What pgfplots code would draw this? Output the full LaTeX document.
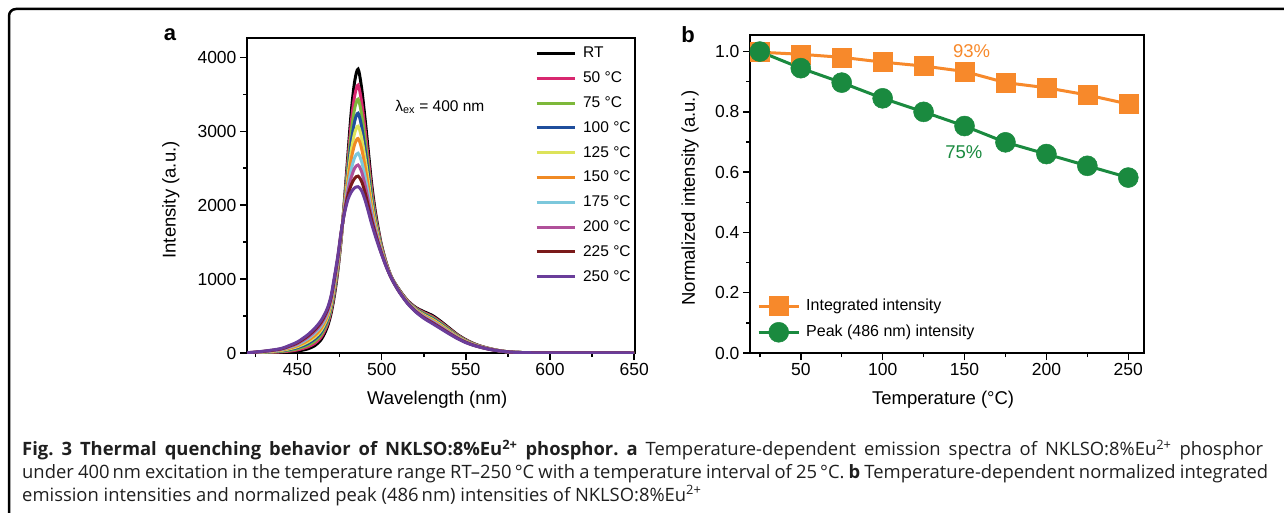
\documentclass[border=0pt]{standalone}
\usepackage{fontspec}
\setmainfont{Liberation Sans}
\newfontfamily\capfont{Open Sans}
\usepackage{pgfplots}
\pgfplotsset{compat=1.18}
\usepackage{pgfplotstable}
\frenchspacing

\pgfplotstableread{
wl rt t50 t75 t100 t125 t150 t175 t200 t225 t250
420 0 0 0 1 1 1 2 2 3 3
430 2 5 8 11 13 16 18 21 23 25
440 8 15 21 28 33 39 45 50 55 60
446 15 28 39 51 61 71 83 92 101 110
450 25 42 57 72 86 99 114 127 139 150
456 55 81 104 126 147 167 191 210 228 245
460 95 127 155 184 209 233 264 287 309 330
462 130 164 194 224 251 277 309 334 358 380
464 180 215 246 278 306 333 366 392 417 440
466 260 295 326 358 386 413 446 472 497 520
468 370 404 434 464 491 517 549 574 598 620
470 540 572 601 631 656 681 712 736 758 780
472 790 824 854 884 911 937 969 994 1018 1040
474 1120 1147 1171 1195 1217 1238 1263 1283 1302 1320
476 1550 1564 1575 1588 1598 1609 1622 1632 1641 1650
478 2100 2073 2049 2025 2003 1982 1957 1937 1918 1900
480 2700 2616 2543 2466 2400 2335 2256 2194 2136 2080
482 3280 3132 3001 2865 2748 2632 2491 2382 2279 2180
484 3680 3485 3312 3138 2979 2827 2647 2502 2365 2235
486 3840 3625 3435 3244 3069 2902 2703 2544 2393 2250
488 3600 3411 3243 3075 2921 2774 2599 2459 2326 2200
490 3200 3049 2914 2780 2657 2539 2399 2287 2181 2080
492 2750 2638 2538 2439 2347 2260 2157 2074 1995 1920
494 2300 2226 2160 2094 2033 1976 1907 1852 1800 1750
496 1950 1903 1861 1819 1780 1744 1700 1665 1632 1600
498 1680 1650 1624 1598 1573 1550 1523 1501 1480 1460
500 1450 1434 1419 1405 1392 1379 1364 1352 1341 1330
503 1200 1193 1187 1181 1176 1171 1164 1159 1155 1150
506 1020 1017 1015 1013 1010 1008 1006 1004 1002 1000
510 870 866 862 859 855 852 848 846 843 840
515 720 715 710 705 701 696 691 687 684 680
520 620 612 605 598 591 585 577 571 565 560
525 560 548 537 526 516 507 496 487 478 470
530 510 495 482 469 457 445 431 420 410 400
535 430 417 405 393 382 371 359 349 339 330
540 340 329 320 310 301 293 283 275 267 260
545 250 243 236 229 223 218 211 205 200 195
550 180 175 170 165 161 156 151 147 144 140
555 125 122 119 116 113 110 107 105 102 100
560 85 83 81 79 78 76 74 73 71 70
565 55 54 52 51 50 49 48 47 46 45
570 32 31 31 30 30 30 29 29 28 28
575 17 17 16 16 16 16 16 15 15 15
580 9 9 9 9 9 8 8 8 8 8
590 3 3 3 3 3 3 3 3 3 3
600 1 1 1 1 1 1 1 1 1 1
650 0 0 0 0 0 0 0 0 0 0
}\spectra

\pgfplotstableread{
T integ peak
25 0.998 1.000
50 0.991 0.945
75 0.981 0.897
100 0.965 0.845
125 0.952 0.800
150 0.934 0.753
175 0.897 0.699
200 0.880 0.660
225 0.856 0.621
250 0.826 0.582
}\quench

\definecolor{c50}{HTML}{D8276F}
\definecolor{c75}{HTML}{7DB83A}
\definecolor{c100}{HTML}{1F4E9C}
\definecolor{c125}{HTML}{DDE35A}
\definecolor{c150}{HTML}{F08A24}
\definecolor{c175}{HTML}{7CC8DC}
\definecolor{c200}{HTML}{B0509A}
\definecolor{c225}{HTML}{7A1A1A}
\definecolor{c250}{HTML}{6A3D9A}
\definecolor{qorange}{HTML}{F7892B}
\definecolor{qgreen}{HTML}{1A8A3F}

\pgfplotsset{
  common/.style={
    scale only axis, anchor=south west,
    axis line style={line width=1.8pt},
    tick style={line width=1.5pt, black},
    major tick length=7pt, minor tick length=4pt,
    tick align=outside, tick pos=left,
    /pgf/number format/assume math mode=true,
    /pgf/number format/1000 sep={},
    tick label style={font=\fontsize{17.5}{20}\selectfont},
    label style={font=\fontsize{18.5}{22}\selectfont},
  }
}

\begin{document}
\begin{tikzpicture}[x=1pt,y=1pt]
\useasboundingbox (0,0) rectangle (1284,512);
\draw[line width=2.5pt] (9,-10) -- (9,496) arc[start angle=180,end angle=90,radius=7] -- (1300,503);

% panel a
\begin{axis}[common,
  at={(247pt,159pt)}, width=388pt, height=315pt,
  xmin=420, xmax=650.5, ymin=0, ymax=4262,
  xtick={450,500,...,650}, minor xtick={425,475,...,625},
  ytick={0,1000,...,4000}, minor ytick={500,1500,2500,3500},
  xlabel={Wavelength (nm)}, ylabel={Intensity (a.u.)},
  xlabel style={at={(axis description cs:0.49,-0.149)}, anchor=center},
  ylabel style={at={(axis description cs:-0.196,0.486)}, anchor=center},
  every axis plot/.append style={line width=3pt, smooth, no markers},
  legend cell align=left,
  legend image code/.code={\draw[#1] (0pt,0pt) -- (38pt,0pt);},
  legend style={at={(0.742,0.9816)}, anchor=north west, draw=none, fill=none,
    inner sep=0pt, row sep=5.8pt,
    font=\fontsize{15.5}{18}\selectfont,
    nodes={inner sep=2pt, text height=12pt, text depth=3pt},
    /tikz/every odd column/.append style={column sep=5pt}},
]
\addplot[black] table[x=wl,y=rt] {\spectra};
\addplot[c50] table[x=wl,y=t50] {\spectra};
\addplot[c75] table[x=wl,y=t75] {\spectra};
\addplot[c100] table[x=wl,y=t100] {\spectra};
\addplot[c125] table[x=wl,y=t125] {\spectra};
\addplot[c150] table[x=wl,y=t150] {\spectra};
\addplot[c175] table[x=wl,y=t175] {\spectra};
\addplot[c200] table[x=wl,y=t200] {\spectra};
\addplot[c225] table[x=wl,y=t225] {\spectra};
\addplot[c250] table[x=wl,y=t250] {\spectra};
\legend{RT, 50 °C, 75 °C, 100 °C, 125 °C, 150 °C, 175 °C, 200 °C, 225 °C, 250 °C}
\node[anchor=west, font=\fontsize{15.5}{18}\selectfont] at (axis cs:506,3330) {λ\textsubscript{ex} = 400 nm};
\end{axis}

% panel b
\begin{axis}[common,
  at={(750pt,159pt)}, width=394pt, height=318pt,
  xmin=19, xmax=259.6, ymin=0, ymax=1.055,
  xtick={50,100,...,250}, minor xtick={25,75,...,225},
  ytick={0,0.2,...,1.0}, minor ytick={0.1,0.3,0.5,0.7,0.9},
  yticklabel style={/pgf/number format/.cd, fixed, fixed zerofill, precision=1},
  xlabel={Temperature (°C)}, ylabel={Normalized intensity (a.u.)},
  xlabel style={at={(axis description cs:0.49,-0.148)}, anchor=center},
  ylabel style={at={(axis description cs:-0.152,0.487)}, anchor=center},
  clip=false,
  legend cell align=left,
  legend image code/.code={\draw[mark repeat=2, mark phase=2, #1] plot coordinates {(0pt,0pt) (20pt,0pt) (40pt,0pt)};},
  legend style={at={(0.0178,0.179)}, anchor=north west, draw=none, fill=none,
    inner sep=0pt, row sep=6.5pt,
    font=\fontsize{16}{19}\selectfont,
    nodes={inner sep=2pt, text height=12pt, text depth=3.5pt},
    /tikz/every odd column/.append style={column sep=4pt}},
]
\addplot[qorange, line width=3pt, mark=square*, mark size=9.5pt, mark options={fill=qorange, draw=qorange, line width=0.5pt}] table[x=T,y=integ] {\quench};
\addplot[qgreen, line width=3pt, mark=*, mark size=10pt, mark options={fill=qgreen, draw=qgreen, line width=0.5pt}] table[x=T,y=peak] {\quench};
\legend{Integrated intensity, Peak (486 nm) intensity}
\node[qorange, font=\fontsize{18.5}{22}\selectfont] at (axis cs:154.3,1.0) {93\%};
\node[qgreen, font=\fontsize{18.5}{22}\selectfont] at (axis cs:149.6,0.667) {75\%};
\end{axis}

\node[font=\bfseries\fontsize{22}{26}\selectfont] at (170,477) {a};
\node[font=\bfseries\fontsize{22}{26}\selectfont] at (688,477) {b};

% caption
\begin{scope}[every node/.style={anchor=base west, inner sep=0pt, text=black!88, font=\capfont\fontsize{18.4}{22}\selectfont}]
\node at (22,56.3) {\makebox[1241pt][s]{\textbf{Fig. 3 Thermal quenching behavior of NKLSO:8\%Eu\textsuperscript{2+} phosphor. a} Temperature-dependent emission spectra of NKLSO:8\%Eu\textsuperscript{2+} phosphor}};
\node at (22,33.7) {\makebox[1246pt][s]{under 400\,nm excitation in the temperature range RT–250\,°C with a temperature interval of 25\,°C. \textbf{b} Temperature-dependent normalized integrated}};
\node at (22,11) {emission intensities and normalized peak (486\,nm) intensities of NKLSO:8\%Eu\textsuperscript{2+}};
\end{scope}
\end{tikzpicture}
\end{document}
